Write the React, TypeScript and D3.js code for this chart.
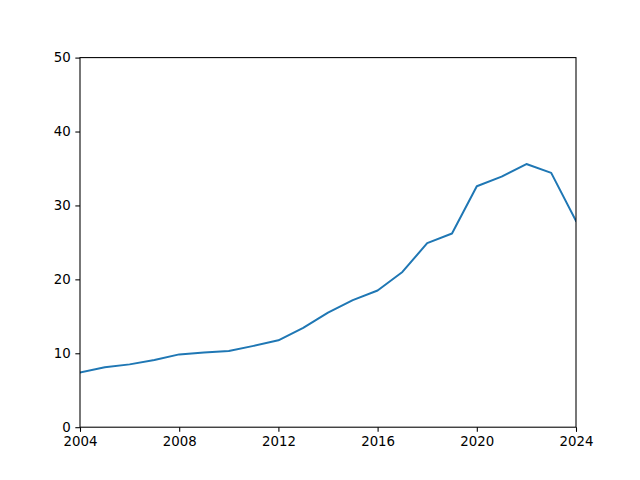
import React, { useEffect, useRef } from 'react';
import * as d3 from 'd3';

const years = [2004, 2005, 2006, 2007, 2008, 2009, 2010, 2011, 2012, 2013, 2014,
  2015, 2016, 2017, 2018, 2019, 2020, 2021, 2022, 2023, 2024];
const values = [7.4, 8.1, 8.5, 9.1, 9.85, 10.1, 10.3, 11.0, 11.75, 13.45, 15.5,
  17.2, 18.5, 21.0, 24.9, 26.2, 32.6, 33.9, 35.6, 34.4, 27.9];
const xTicks = [2004, 2008, 2012, 2016, 2020, 2024];
const yTicks = [0, 10, 20, 30, 40, 50];

const App: React.FC = () => {
  const svgRef = useRef<SVGSVGElement>(null);

  useEffect(() => {
    if (!svgRef.current) return;
    const svg = d3.select(svgRef.current);
    svg.selectAll('*').remove();

    const width = 640;
    const height = 480;
    const margin = { top: 57.6, right: 64, bottom: 52.8, left: 80 };
    const innerW = width - margin.left - margin.right;
    const innerH = height - margin.top - margin.bottom;

    const x = d3.scaleLinear().domain([2004, 2024]).range([0, innerW]);
    const y = d3.scaleLinear().domain([0, 50]).range([innerH, 0]);

    svg.append('rect').attr('width', width).attr('height', height).attr('fill', '#fff');

    const g = svg.append('g').attr('transform', `translate(${margin.left},${margin.top})`);

    g.append('clipPath').attr('id', 'plot-clip')
      .append('rect').attr('width', innerW).attr('height', innerH);

    const line = d3.line<number>()
      .x((_, i) => x(years[i]))
      .y(d => y(d));

    g.append('path')
      .datum(values)
      .attr('clip-path', 'url(#plot-clip)')
      .attr('d', line)
      .attr('fill', 'none')
      .attr('stroke', '#1f77b4')
      .attr('stroke-width', 2)
      .attr('stroke-linejoin', 'round')
      .attr('stroke-linecap', 'square');

    const font = 'DejaVu Sans, sans-serif';

    const xAxis = g.append('g')
      .attr('transform', `translate(0,${innerH})`)
      .call(d3.axisBottom(x).tickValues(xTicks).tickFormat(d3.format('d'))
        .tickSizeInner(4.67).tickSizeOuter(0).tickPadding(4.67));
    const yAxis = g.append('g')
      .call(d3.axisLeft(y).tickValues(yTicks).tickFormat(d3.format('d'))
        .tickSizeInner(4.67).tickSizeOuter(0).tickPadding(4.67));

    [xAxis, yAxis].forEach(ax => {
      ax.select('.domain').remove();
      ax.selectAll('line').attr('stroke', '#000').attr('stroke-width', 1.07);
      ax.selectAll('text').attr('fill', '#000')
        .style('font-family', font).style('font-size', '13.33px');
    });

    // spines
    g.append('rect')
      .attr('width', innerW).attr('height', innerH)
      .attr('fill', 'none').attr('stroke', '#000').attr('stroke-width', 1.07);
  }, []);

  return (
    <svg ref={svgRef} width={640} height={480}
      style={{ position: 'absolute', top: 0, left: 0, display: 'block' }} />
  );
};

export default App;
